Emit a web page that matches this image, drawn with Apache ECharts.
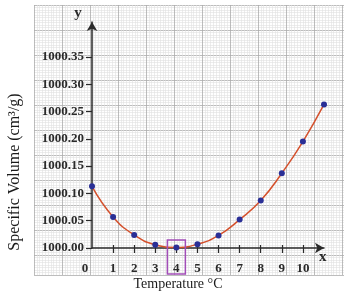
<!DOCTYPE html>
<html><head><meta charset="utf-8">
<script src="https://cdn.jsdelivr.net/npm/echarts@6/dist/echarts.min.js"></script>
<style>html,body{margin:0;padding:0;background:#fff}#c{width:344px;height:296px}</style>
</head><body><div id="c"></div>
<script>
var temps = [0, 1, 2, 3, 4, 5, 6, 7, 8, 9, 10, 11];
var volumes = [1000.113, 1000.057, 1000.024, 1000.006, 1000.001, 1000.007, 1000.023, 1000.052, 1000.087, 1000.137, 1000.195, 1000.263];
var yTicks = [1000.00, 1000.05, 1000.10, 1000.15, 1000.20, 1000.25, 1000.30, 1000.35];
var xTicks = [0, 1, 2, 3, 4, 5, 6, 7, 8, 9, 10];
var markedTemp = 4;

var FONT = '"Liberation Serif", "DejaVu Serif", serif';
var chart = echarts.init(document.getElementById('c'), null, {renderer: 'canvas'});
var axisColor = '#2a2a2a';
var option = {
  animation: false,
  grid: [
    {left: 92, right: 20, top: 22, bottom: 48},
    {left: 34, right: 0, top: 5, bottom: 21}
  ],
  xAxis: [
    {gridIndex: 0, type: 'value', position: 'bottom', min: 0, max: 11, z: 3,
     name: 'x', nameLocation: 'end', nameGap: -5,
     nameTextStyle: {fontFamily: FONT, fontWeight: 'bold', fontSize: 15, color: axisColor, verticalAlign: 'top', padding: [2, 0, 0, 0]},
     axisLine: {show: true, onZero: false, symbol: ['none', 'arrow'], symbolSize: [8, 9], lineStyle: {color: axisColor, width: 1.5}},
     axisTick: {show: true, customValues: xTicks.slice(1), length: 5, lineStyle: {color: axisColor, width: 1.2}},
     axisLabel: {show: true, customValues: xTicks, margin: 14, fontFamily: FONT, fontWeight: 'bold', fontSize: 13, color: axisColor,
       formatter: function (v) { return v === 0 ? '{z|0}' : String(v); },
       rich: {z: {padding: [0, 14, 6, 0], fontFamily: FONT, fontWeight: 'bold', fontSize: 13, color: axisColor}}},
     splitLine: {show: false}},
    {gridIndex: 0, type: 'value', position: 'bottom', min: 0, max: 11, z: 3,
     axisLine: {show: false, onZero: false},
     axisTick: {show: true, inside: true, customValues: xTicks.slice(1), length: 3, lineStyle: {color: axisColor, width: 1.2}},
     axisLabel: {show: false}, splitLine: {show: false}},
    {gridIndex: 1, type: 'value', min: 0, max: 11.07, interval: 1, z: 0,
     axisLine: {show: false}, axisTick: {show: false}, axisLabel: {show: false},
     splitLine: {show: true, lineStyle: {color: '#acacac', width: 0.8}},
     minorTick: {show: false, splitNumber: 10},
     minorSplitLine: {show: true, lineStyle: {color: '#e0e0e0', width: 0.6}}}
  ],
  yAxis: [
    {gridIndex: 0, type: 'value', min: 1000, max: 1000.414, interval: 0.05, z: 3,
     name: 'y', nameLocation: 'end', nameGap: 1,
     nameTextStyle: {fontFamily: FONT, fontWeight: 'bold', fontSize: 15, color: axisColor, padding: [0, 28, 0, 0]},
     axisLine: {show: true, onZero: false, symbol: ['none', 'arrow'], symbolSize: [8, 9], lineStyle: {color: axisColor, width: 1.5}},
     axisTick: {show: true, customValues: yTicks, length: 6, lineStyle: {color: axisColor, width: 1.2}},
     axisLabel: {show: true, customValues: yTicks, margin: 8, fontFamily: FONT, fontWeight: 'bold', fontSize: 13, color: axisColor,
       formatter: function (v) { return Number(v).toFixed(2); }},
     splitLine: {show: false}},
    {gridIndex: 1, type: 'value', inverse: true, min: 0, max: 10.8, interval: 1, z: 0,
     axisLine: {show: false}, axisTick: {show: false}, axisLabel: {show: false},
     splitLine: {show: true, lineStyle: {color: '#acacac', width: 0.8}},
     minorTick: {show: false, splitNumber: 10},
     minorSplitLine: {show: true, lineStyle: {color: '#e0e0e0', width: 0.6}}}
  ],
  series: [
    {type: 'line', xAxisIndex: 0, yAxisIndex: 0, z: 5,
     data: temps.map(function (t, i) { return [t, volumes[i]]; }),
     smooth: 0.5, clip: false,
     lineStyle: {color: '#d4502c', width: 1.5},
     symbol: 'circle', symbolSize: 6,
     itemStyle: {color: '#2a2f96'}}
  ],
  graphic: [
    {type: 'text', x: 15, y: 172, rotation: Math.PI / 2,
     style: {text: 'Specific Volume (cm\u00b3/g)', fontFamily: FONT, fontSize: 16, fill: '#1a1a1a', align: 'center', verticalAlign: 'middle'}},
    {type: 'text', x: 178, y: 284,
     style: {text: 'Temperature \u00b0C', fontFamily: FONT, fontSize: 14, fill: '#1a1a1a', align: 'center', verticalAlign: 'middle'}}
  ]
};
chart.setOption(option);
var p = chart.convertToPixel({xAxisIndex: 0, yAxisIndex: 0}, [markedTemp, 1000]);
chart.setOption({graphic: option.graphic.concat([
  {type: 'rect', z: 10, shape: {x: p[0] - 9, y: p[1] - 8, width: 18, height: 34},
   style: {fill: 'none', stroke: '#a24db8', lineWidth: 1.5}}
])});
</script></body></html>
